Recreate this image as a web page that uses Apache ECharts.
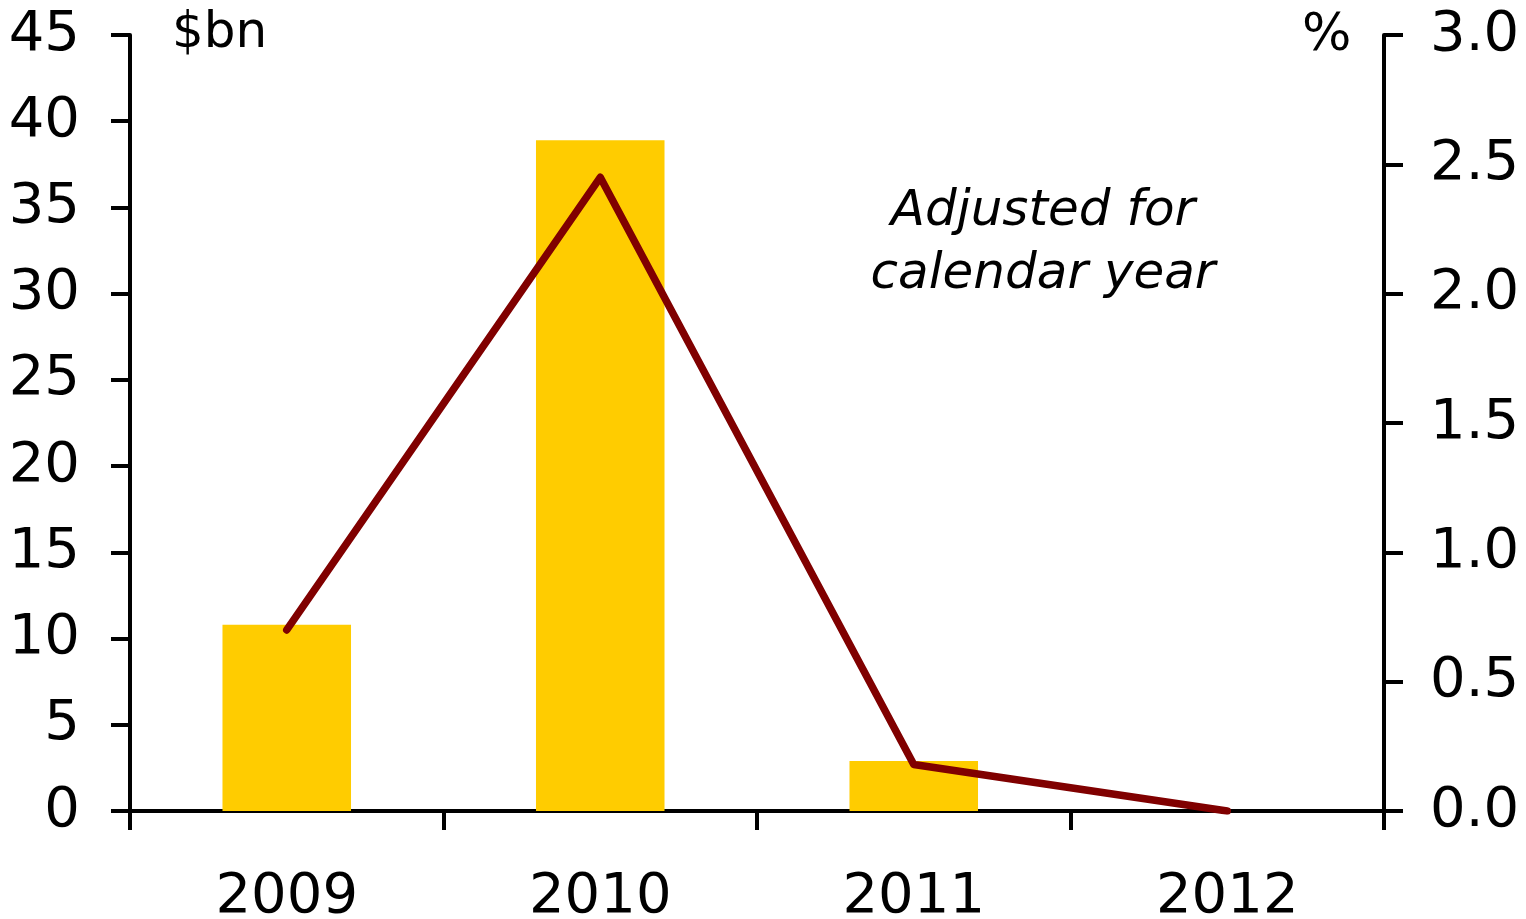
<!DOCTYPE html>
<html>
<head>
<meta charset="utf-8">
<script src="https://cdn.jsdelivr.net/npm/echarts@6/dist/echarts.min.js"></script>
<style>
  html, body { margin: 0; padding: 0; background: #fff; }
  #chart { width: 1526px; height: 919px; }
</style>
</head>
<body>
<div id="chart"></div>
<script>
// Years on the category axis
const years = ['2009', '2010', '2011', '2012'];
// Amounts in $bn (left axis, bars)
const amountBn = [10.8, 38.9, 2.9, 0];
// Share in % (right axis, line)
const sharePct = [0.70, 2.45, 0.18, 0.0];

const FONT = 'DejaVu Sans, Verdana, sans-serif';
const axisLine = { show: true, lineStyle: { color: '#000', width: 4 } };
const axisTick = { show: true, length: 19, lineStyle: { color: '#000', width: 4 } };

const chart = echarts.init(document.getElementById('chart'), null, { renderer: 'canvas' });

chart.setOption({
  animation: false,
  backgroundColor: '#fff',
  grid: {
    left: 130, right: 142, top: 35, bottom: 108,
    containLabel: false,
    outerBoundsMode: 'none'
  },
  xAxis: {
    type: 'category',
    data: years,
    boundaryGap: true,
    axisLine: axisLine,
    axisTick: axisTick,
    axisLabel: { color: '#000', fontFamily: FONT, fontSize: 56, margin: 58 },
    splitLine: { show: false }
  },
  yAxis: [
    {
      type: 'value',
      position: 'left',
      min: 0, max: 45, interval: 5,
      axisLine: axisLine,
      axisTick: axisTick,
      axisLabel: { color: '#000', fontFamily: FONT, fontSize: 56, margin: 50 },
      splitLine: { show: false }
    },
    {
      type: 'value',
      position: 'right',
      min: 0, max: 3, interval: 0.5,
      axisLine: axisLine,
      axisTick: axisTick,
      axisLabel: {
        color: '#000', fontFamily: FONT, fontSize: 56, margin: 46,
        formatter: v => v.toFixed(1)
      },
      splitLine: { show: false }
    }
  ],
  series: [
    {
      type: 'bar',
      yAxisIndex: 0,
      data: amountBn,
      barWidth: '41%',
      itemStyle: { color: '#FFCC00' },
      z: 2
    },
    {
      type: 'line',
      yAxisIndex: 1,
      data: sharePct,
      showSymbol: false,
      symbol: 'none',
      lineStyle: { color: '#800000', width: 7.5, cap: 'round', join: 'round' },
      z: 3
    }
  ],
  graphic: [
    {
      type: 'text', left: 172, top: 9,
      style: { text: '$bn', font: '50px ' + FONT, fill: '#000' }
    },
    {
      type: 'text', left: 1302, top: 10,
      style: { text: '%', font: '52px ' + FONT, fill: '#000' }
    },
    {
      type: 'text', x: 1043, y: 244,
      style: {
        text: 'Adjusted for\ncalendar year',
        font: 'italic 50px ' + FONT,
        fill: '#000',
        align: 'center',
        verticalAlign: 'middle',
        lineHeight: 63
      }
    }
  ]
});
</script>
</body>
</html>
